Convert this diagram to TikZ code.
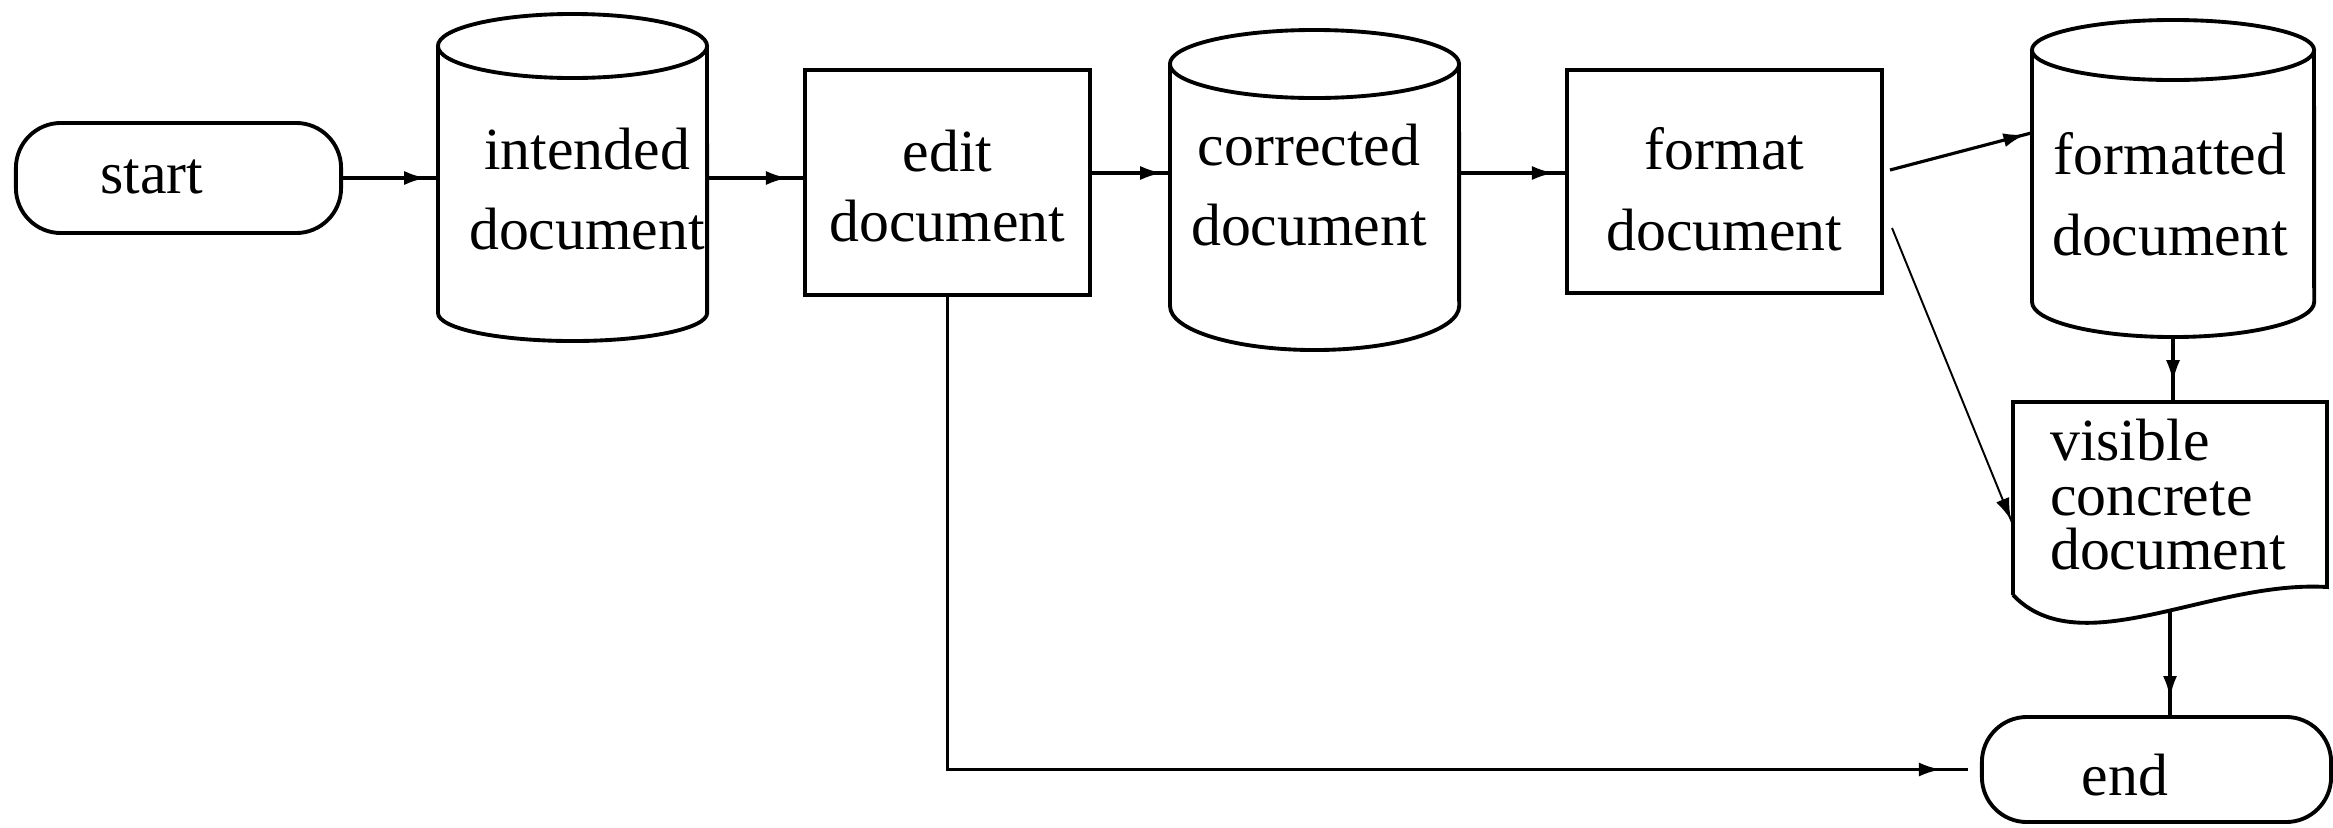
\documentclass[tikz,border=0pt]{standalone}
\usepackage{fontspec}
\setmainfont{Liberation Serif}
\usetikzlibrary{arrows.meta,decorations.markings,calc}
\begin{document}
\begin{tikzpicture}[x=0.01cm,y=-0.01cm,
  font=\fontsize{17}{23}\selectfont,
  shapeline/.style={line width=1.1pt},
  box/.style={draw, shapeline, rectangle, inner sep=0pt},
  term/.style={box, rounded corners=0.45cm},
  ghost/.style={rectangle, inner sep=0pt, draw=none},
  flow/.style={line width=0.9pt},
  thinflow/.style={line width=0.55pt},
  arrowat/.style={postaction={decorate}, decoration={markings, mark=at position #1 with {\arrow{Latex[length=0.22cm,width=0.14cm]}}}},
  txt/.style={align=center, font=\fontsize{17}{23}\selectfont}
]
\useasboundingbox (0,0) rectangle (2333,827);

% nodes
\node[term, minimum width=3.25cm, minimum height=1.10cm,
  label={[txt, xshift=-0.265cm, yshift=0.01cm]center:start}] (start) at (178.5,178) {};

\node[ghost, minimum width=2.69cm, minimum height=3.28cm,
  label={[txt, xshift=0.145cm, yshift=-0.11cm]center:intended\\document}] (intended) at (572.5,178) {};
\draw[shapeline] (438,46) -- (438,313) arc[start angle=180, end angle=360, x radius=1.345cm, y radius=0.28cm] -- (707,46);
\draw[shapeline] (572.5,46) ellipse [x radius=1.345cm, y radius=0.32cm];

\node[box, minimum width=2.85cm, minimum height=2.25cm,
  label={[txt, font=\fontsize{17}{20}\selectfont, yshift=-0.035cm]center:edit\\document}] (edit) at (947.5,182.5) {};

\node[ghost, minimum width=2.89cm, minimum height=3.20cm,
  label={[txt, xshift=-0.055cm, yshift=0.05cm]center:corrected\\document}] (corrected) at (1314.5,190) {};
\draw[shapeline] (1170,64) -- (1170,306) arc[start angle=180, end angle=360, x radius=1.445cm, y radius=0.44cm] -- (1459,64);
\draw[shapeline] (1314.5,64) ellipse [x radius=1.445cm, y radius=0.34cm];

\node[box, minimum width=3.15cm, minimum height=2.23cm,
  label={[txt, yshift=-0.075cm]center:format\\document}] (format) at (1724.5,181.5) {};

\node[ghost, minimum width=2.82cm, minimum height=3.17cm,
  label={[txt, xshift=-0.03cm, yshift=-0.155cm]center:formatted\\document}] (formatted) at (2173,178.5) {};
\draw[shapeline] (2032,50) -- (2032,302) arc[start angle=180, end angle=360, x radius=1.41cm, y radius=0.35cm] -- (2314,50);
\draw[shapeline] (2173,50) ellipse [x radius=1.41cm, y radius=0.30cm];

\node[ghost, minimum width=3.14cm, minimum height=2.20cm,
  label={[align=left, font=\fontsize{17}{15.5}\selectfont, xshift=-0.02cm, yshift=0.17cm]center:visible\\concrete\\document}] (visible) at (2170,512) {};
\draw[shapeline] (2013,595) -- (2013,402) -- (2327,402) -- (2327,587)
  .. controls (2210,580) and (2080,665) .. (2013,595);

\node[term, minimum width=3.49cm, minimum height=1.05cm,
  label={[txt, xshift=-0.315cm, yshift=-0.055cm]center:end}] (end) at (2156.5,769.5) {};

% connectors
\draw[flow, arrowat=-0.11cm] (start.east) -- (intended.west);
\draw[flow, arrowat=-0.15cm] (intended.east) -- (intended.east -| edit.west);
\draw[flow, arrowat=-0.07cm] ([yshift=0.095cm]edit.east) -- ([yshift=0.095cm]edit.east -| corrected.west);
\draw[flow, arrowat=-0.11cm] ([yshift=0.17cm]corrected.east) -- ([yshift=0.17cm]corrected.east -| format.west);
\draw[flow, arrowat=-0.06cm] ([xshift=0.06cm,yshift=0.115cm]format.east) -- ([yshift=0.455cm]formatted.west);
\draw[thinflow, arrowat=-0.03cm] ([xshift=0.08cm,yshift=-0.465cm]format.east) -- ([yshift=-0.11cm]visible.west);
\draw[flow, arrowat=-0.19cm] (formatted.south) -- (formatted.south |- visible.north);
\draw[flow, arrowat=-0.17cm] ([yshift=0.12cm]visible.south) -- (visible.south |- end.north);
\draw[flow, arrowat=-0.27cm] (edit.south) |- ([xshift=-0.12cm]end.west);
\end{tikzpicture}
\end{document}
